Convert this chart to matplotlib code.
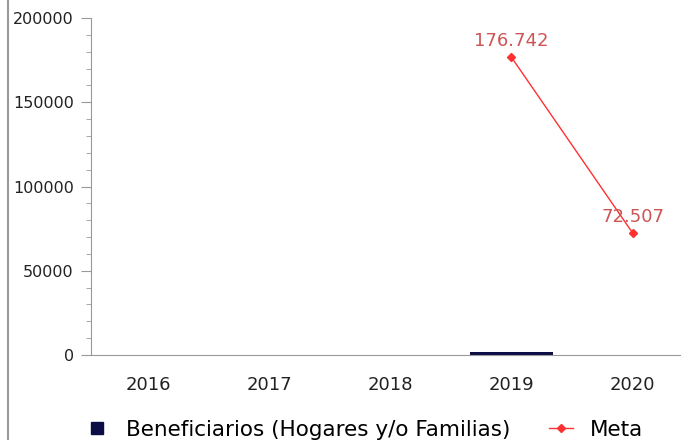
import numpy as np
import matplotlib.pyplot as plt
from matplotlib.ticker import MultipleLocator
from matplotlib.lines import Line2D

years = ["2016", "2017", "2018", "2019", "2020"]
beneficiarios = [0, 0, 0, 1800, 0]
meta_idx = [3, 4]
meta = [176742, 72507]
meta_labels = ["176.742", "72.507"]

fig = plt.figure(figsize=(6.81, 4.40), dpi=100)
ax = fig.add_axes([91 / 681, 1 - 355 / 440, 1 - 91 / 681, (355 - 18) / 440])

x = np.arange(len(years))
ax.bar(x, beneficiarios, width=0.68, color="#0d0d45", zorder=2,
       label="Beneficiarios (Hogares y/o Familias)")
ax.plot(meta_idx, meta, color="#ff3030", lw=1, marker="D", ms=4,
        zorder=3, label="Meta")
for xi, v, t in zip(meta_idx, meta, meta_labels):
    ax.text(xi, v + 4000, t, ha="center", va="bottom", color="#cc5555",
            fontsize=13)

ax.set_xlim(-0.47, 4.4)
ax.set_ylim(0, 200000)
ax.set_xticks(x)
ax.set_xticklabels(years, fontsize=13, color="#222222")
ax.tick_params(axis="x", length=0, pad=15)
ax.yaxis.set_major_locator(MultipleLocator(50000))
ax.yaxis.set_minor_locator(MultipleLocator(10000))
ax.tick_params(axis="y", which="major", length=7.5, color="#999999",
               labelsize=11.5, labelcolor="#222222", pad=5)
ax.tick_params(axis="y", which="minor", length=3.6, color="#999999")
for s in ["top", "right"]:
    ax.spines[s].set_visible(False)
ax.spines["left"].set_color("#999999")
ax.spines["bottom"].set_color("#999999")

fig.add_artist(Line2D([8 / 681, 8 / 681], [0, 1], color="#999999", lw=1.5))

handles = [
    Line2D([], [], marker="s", color="#0d0d45", ls="none", ms=9),
    Line2D([], [], marker="D", color="#ff3030", lw=1, ms=4),
]
fig.legend(handles, ["Beneficiarios (Hogares y/o Familias)", "Meta"],
           loc="center", bbox_to_anchor=(0.535, 1 - 430 / 440), ncol=2,
           frameon=False, fontsize=15.5, handlelength=1.1, columnspacing=1.8,
           handletextpad=0.8)

fig.savefig("out.png", dpi=100)
